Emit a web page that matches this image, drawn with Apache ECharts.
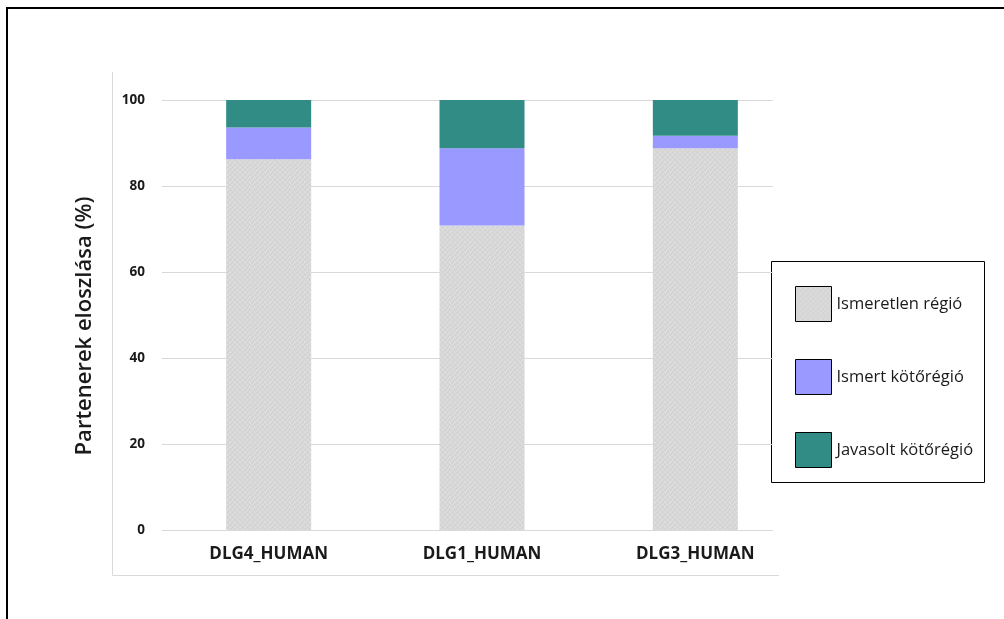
<!DOCTYPE html>
<html>
<head>
<meta charset="utf-8">
<style>
  html, body { margin: 0; padding: 0; background: #ffffff; }
  #chart { width: 1004px; height: 619px; }
</style>
<script src="https://cdn.jsdelivr.net/npm/echarts@6/dist/echarts.min.js"></script>
</head>
<body>
<div id="chart"></div>
<script>
// Protein names on the category axis
const categories = ['DLG4_HUMAN', 'DLG1_HUMAN', 'DLG3_HUMAN'];
// Share of partners per region type (%), stacked to 100
const unknownRegion = [86.2, 70.8, 88.8];
const knownBinding = [7.4, 18.0, 2.9];
const proposedBinding = [6.4, 11.2, 8.3];
const seriesNames = ['Ismeretlen régió', 'Ismert kötőrégió', 'Javasolt kötőrégió'];
const yTicks = { min: 0, max: 100, interval: 20 };

// Fine stippled grey fill for the "unknown" segments
function stipple() {
  const c = document.createElement('canvas');
  c.width = 5; c.height = 5;
  const g = c.getContext('2d');
  g.fillStyle = '#d9d9d9';
  g.fillRect(0, 0, 5, 5);
  g.fillStyle = '#cecece';
  [[0, 0], [3, 1], [1, 3], [4, 4], [2, 2]].forEach(p => g.fillRect(p[0], p[1], 1, 1));
  g.fillStyle = '#e1e1e1';
  [[2, 4], [4, 1], [0, 2]].forEach(p => g.fillRect(p[0], p[1], 1, 1));
  return c;
}
const greyFill = { image: stipple(), repeat: 'repeat' };
const colors = [greyFill, '#9999ff', '#328c86'];

const labelFont = 'Open Sans';
const chart = echarts.init(document.getElementById('chart'), null, { renderer: 'canvas' });

chart.setOption({
  animation: false,
  backgroundColor: '#ffffff',
  grid: [
    { left: 162, right: 202, top: 100, bottom: 89 },
    { left: 162, right: 231, top: 100, bottom: 89 }
  ],
  xAxis: [
    {
      type: 'category', gridIndex: 0, data: categories,
      axisLine: { show: false }, axisTick: { show: false },
      axisLabel: { color: '#1a1a1a', fontFamily: labelFont, fontWeight: 'bold', fontSize: 17, margin: 16 }
    },
    { type: 'value', gridIndex: 1, show: false, min: 0, max: 1 }
  ],
  yAxis: [
    {
      type: 'value', gridIndex: 0, min: yTicks.min, max: yTicks.max, interval: yTicks.interval,
      show: false
    },
    {
      type: 'value', gridIndex: 1, min: yTicks.min, max: yTicks.max, interval: yTicks.interval,
      axisLine: { show: false }, axisTick: { show: false },
      axisLabel: { color: '#1a1a1a', fontFamily: labelFont, fontWeight: 'bold', fontSize: 13.5, margin: 17 },
      splitLine: { lineStyle: { color: '#d9d9d9', width: 1 } }
    }
  ],
  legend: {
    orient: 'vertical', left: 790, top: 281,
    itemWidth: 36, itemHeight: 35, itemGap: 37,
    icon: 'rect',
    data: seriesNames,
    itemStyle: { borderColor: '#000000', borderWidth: 1 },
    textStyle: { color: '#1a1a1a', fontFamily: labelFont, fontSize: 16.5 }
  },
  graphic: [
    // outer frame (top and left edges)
    { type: 'line', shape: { x1: 7, y1: 8, x2: 1004, y2: 8 }, style: { stroke: '#000000', lineWidth: 2 } },
    { type: 'line', shape: { x1: 7, y1: 7, x2: 7, y2: 619 }, style: { stroke: '#000000', lineWidth: 2 } },
    // plot area border (left and bottom edges)
    { type: 'line', shape: { x1: 112.5, y1: 72, x2: 112.5, y2: 575.5 }, style: { stroke: '#d9d9d9', lineWidth: 1 } },
    { type: 'line', shape: { x1: 112.5, y1: 575.5, x2: 779, y2: 575.5 }, style: { stroke: '#d9d9d9', lineWidth: 1 } },
    // legend box
    { type: 'rect', z: -1, shape: { x: 771.5, y: 261.5, width: 213, height: 221 }, style: { fill: '#ffffff', stroke: '#000000', lineWidth: 1 } },
    // value axis title
    {
      type: 'text', x: 85, y: 326, rotation: Math.PI / 2,
      style: {
        text: 'Partenerek eloszlása (%)', fill: '#1a1a1a',
        font: '600 22px "Open Sans"', align: 'center', verticalAlign: 'middle'
      }
    }
  ],
  series: [
    { name: seriesNames[0], type: 'bar', stack: 'total', xAxisIndex: 0, yAxisIndex: 0, barWidth: 85, data: unknownRegion, itemStyle: { color: colors[0] } },
    { name: seriesNames[1], type: 'bar', stack: 'total', xAxisIndex: 0, yAxisIndex: 0, barWidth: 85, data: knownBinding, itemStyle: { color: colors[1] } },
    { name: seriesNames[2], type: 'bar', stack: 'total', xAxisIndex: 0, yAxisIndex: 0, barWidth: 85, data: proposedBinding, itemStyle: { color: colors[2] } }
  ]
});
</script>
</body>
</html>
